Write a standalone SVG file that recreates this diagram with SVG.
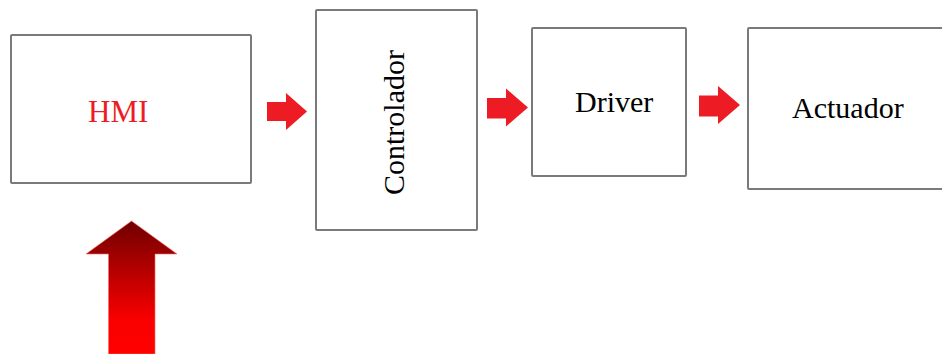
<svg xmlns="http://www.w3.org/2000/svg" width="942" height="354" viewBox="0 0 942 354">
  <style>
    .box { fill: #ffffff; stroke: #7a7a7a; stroke-width: 2; }
    .label { font-family: "Liberation Serif", "Times New Roman", serif; font-size: 30px; fill: #000000; }
    .flow { fill: #ed1c24; }
  </style>
  <defs>
    <linearGradient id="upGrad" x1="0" y1="220" x2="0" y2="354" gradientUnits="userSpaceOnUse">
      <stop offset="0" stop-color="#6e0000"/>
      <stop offset="0.35" stop-color="#b00000"/>
      <stop offset="0.75" stop-color="#fa0000"/>
      <stop offset="1" stop-color="#ff0000"/>
    </linearGradient>
  </defs>

  <rect width="942" height="354" fill="#ffffff"/>

  <g id="hmi">
    <rect class="box" x="11" y="35" width="240" height="148" rx="1"/>
    <text class="label" x="88" y="122" style="fill:#ed1c24; font-size:31px">HMI</text>
  </g>

  <g id="controlador">
    <rect class="box" x="316" y="10" width="161" height="220" rx="1"/>
    <text class="label" transform="translate(404,195) rotate(-90)" x="0" y="0">Controlador</text>
  </g>

  <g id="driver">
    <rect class="box" x="532" y="28" width="154" height="148" rx="1"/>
    <text class="label" x="575" y="112">Driver</text>
  </g>

  <g id="actuador">
    <rect class="box" x="748" y="28" width="200" height="161" rx="1"/>
    <text class="label" x="792" y="118">Actuador</text>
  </g>

  <g id="connectors">
    <polygon class="flow" points="267,102 286,102 286,93 307,111.5 286,130 286,121 267,121"/>
    <polygon class="flow" points="487,98 506,98 506,88.5 528,107.5 506,126.5 506,118.5 487,118.5"/>
    <polygon class="flow" points="699,95.5 718,95.5 718,86 740,105 718,124 718,116.5 699,116.5"/>
    <polygon points="131.5,221 177,254 155,254 155,354 108.5,354 108.5,254 86,254" fill="url(#upGrad)" stroke="#ff6a6a" stroke-width="1" stroke-opacity="0.6"/>
  </g>
</svg>
